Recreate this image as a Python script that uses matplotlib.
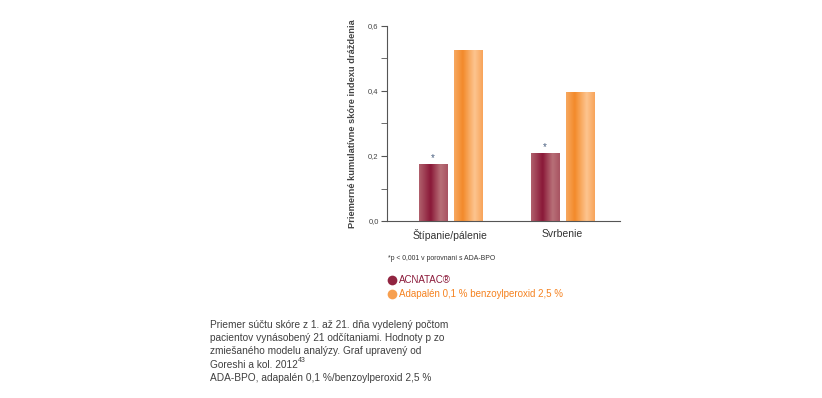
import matplotlib
matplotlib.use('Agg')
import matplotlib.pyplot as plt
import numpy as npy
from matplotlib.colors import LinearSegmentedColormap
from matplotlib.lines import Line2D
from matplotlib.ticker import MultipleLocator

plt.rcParams['font.family'] = ['Liberation Sans', 'DejaVu Sans']

# data
categories = ['Štípanie/pálenie', 'Svrbenie']
acnatac = [0.174, 0.209]
ada_bpo = [0.526, 0.395]
series_names = ['ACNATAC\u00ae', 'Adapalén 0,1 % benzoylperoxid 2,5 %']
yticks = [0.0, 0.2, 0.4, 0.6]
ytick_labels = ['0,0', '0,2', '0,4', '0,6']
footnote = '*p < 0,001 v porovnaní s ADA-BPO'
note_lines = ['Priemer súčtu skóre z 1. až 21. dňa vydelený počtom',
              'pacientov vynásobený 21 odčítaniami. Hodnoty p zo',
              'zmiešaného modelu analýzy. Graf upravený od',
              'Goreshi a kol. 2012',
              'ADA-BPO, adapalén 0,1 %/benzoylperoxid 2,5 %']
ref_sup = '43'

maroon = '#8b1a3a'
orange = '#f58220'
cm_maroon = LinearSegmentedColormap.from_list('m', [(0, '#b0606c'), (0.4, '#8a1838'),
                                                    (0.75, '#b87078'), (1, '#a85462')])
cm_orange = LinearSegmentedColormap.from_list('o', [(0, '#f7a860'), (0.3, '#f38a2a'),
                                                    (0.72, '#fdc590'), (1, '#f8a45a')])

W, H = 822, 398
fig = plt.figure(figsize=(W / 100, H / 100), dpi=100)
ax = fig.add_axes([387 / W, 1 - 221 / H, (620 - 387) / W, (221 - 26) / H])

x = npy.arange(len(categories))
bw = 0.25
off = 0.157
grad = npy.linspace(0, 1, 64).reshape(1, -1)

def gradbar(xc, h, cmap):
    ax.imshow(grad, cmap=cmap, aspect='auto', extent=(xc - bw / 2, xc + bw / 2, 0, h),
              interpolation='bicubic', zorder=2)

for i in range(len(categories)):
    gradbar(x[i] - off, acnatac[i], cm_maroon)
    gradbar(x[i] + off, ada_bpo[i], cm_orange)
    ax.text(x[i] - off, acnatac[i] + 0.004, '*', ha='center', va='bottom',
            fontsize=7, color='#4a6080')

ax.set_xlim(-0.567, 1.513)
ax.set_ylim(0, 0.6)
ax.set_xticks(x)
ax.set_xticklabels(categories, fontsize=7.5, color='#333333')
ax.tick_params(axis='x', length=0, pad=6)
ax.set_yticks(yticks)
ax.set_yticklabels(ytick_labels, fontsize=5.5, color='#444444')
ax.yaxis.set_minor_locator(MultipleLocator(0.1))
ax.tick_params(axis='y', which='both', length=4, color='#555555', pad=2)
for s in ['top', 'right']:
    ax.spines[s].set_visible(False)
for s in ['left', 'bottom']:
    ax.spines[s].set_color('#555555')
    ax.spines[s].set_linewidth(0.8)
ax.set_ylabel('Priemerné kumulatívne skóre indexu dráždenia', fontsize=6.7,
              fontweight='bold', color='#444444')
ax.yaxis.set_label_coords(-0.13, 0.50)

fig.text(388 / W, 1 - 258 / H, footnote, fontsize=4.95, color='#333333', va='center')

leg_y = [280, 294]
for yy, name, c, cmc in zip(leg_y, series_names, [maroon, orange], [cm_maroon, cm_orange]):
    fig.add_artist(Line2D([391.5 / W], [1 - yy / H], transform=fig.transFigure, marker='o',
                          markersize=7, color=cmc(0.45), markeredgewidth=0, linestyle='None'))
    fig.text(399 / W, 1 - yy / H, name, fontsize=7, color=c, va='center')

for k, line in enumerate(note_lines):
    t = fig.text(210 / W, 1 - (325 + 13.2 * k) / H, line, fontsize=7.3, color='#404040',
                 va='center')
    if k == 3:
        fig.canvas.draw()
        bb = t.get_window_extent()
        fig.text(bb.x1 / W + 0.5 / W, 1 - (325 + 13.2 * k - 4) / H, ref_sup, fontsize=5,
                 color='#404040', va='center')

fig.savefig('out.png', dpi=100)
